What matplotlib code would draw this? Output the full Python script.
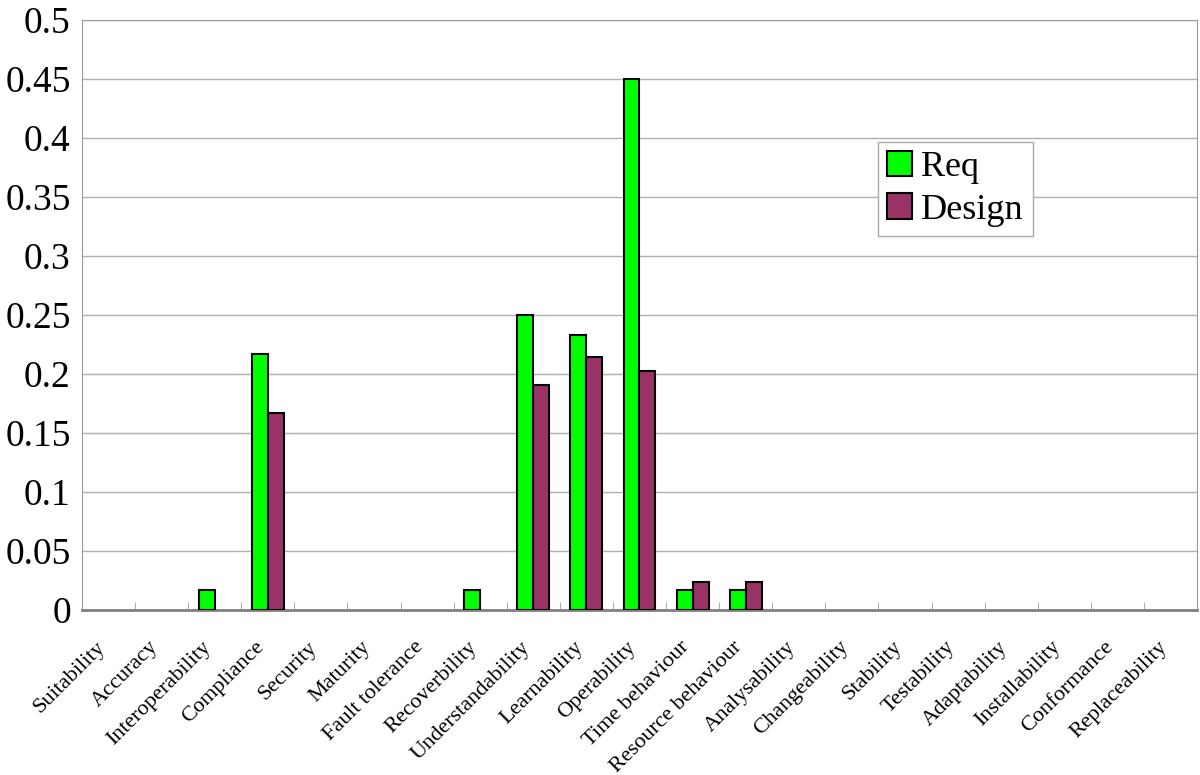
import numpy as np
import matplotlib.pyplot as plt
from matplotlib.ticker import FixedLocator
from matplotlib.transforms import ScaledTranslation

categories = ["Suitability", "Accuracy", "Interoperability", "Compliance", "Security",
              "Maturity", "Fault tolerance", "Recoverbility", "Understandability",
              "Learnability", "Operability", "Time behaviour", "Resource behaviour",
              "Analysability", "Changeability", "Stability", "Testability",
              "Adaptability", "Installability", "Conformance", "Replaceability"]
req = [0, 0, 0.0167, 0.2167, 0, 0, 0, 0.0167, 0.25, 0.2333, 0.45, 0.0167, 0.0167,
       0, 0, 0, 0, 0, 0, 0, 0]
design = [0, 0, 0, 0.1667, 0, 0, 0, 0, 0.1905, 0.2143, 0.2024, 0.0238, 0.0238,
          0, 0, 0, 0, 0, 0, 0, 0]
yticks = [0, 0.05, 0.1, 0.15, 0.2, 0.25, 0.3, 0.35, 0.4, 0.45, 0.5]
ytick_labels = ["0", "0.05", "0.1", "0.15", "0.2", "0.25", "0.3", "0.35", "0.4", "0.45", "0.5"]

plt.rcParams['font.family'] = ['Liberation Serif', 'DejaVu Serif']

fig = plt.figure(figsize=(12, 7.75), dpi=100)
ax = fig.add_axes([0.0683, 0.213, 0.9292, 0.7613])

x = np.arange(len(categories))
w = 0.3
ax.bar(x - w / 2, [v if v > 0 else np.nan for v in req], w, color="#00FF00",
       edgecolor="black", linewidth=1.5, label="Req", zorder=3)
ax.bar(x + w / 2, [v if v > 0 else np.nan for v in design], w, color="#993366",
       edgecolor="black", linewidth=1.5, label="Design", zorder=3)

ax.set_xlim(-0.5, len(categories) - 0.5)
ax.set_ylim(0, 0.5)
ax.set_yticks(yticks)
ax.set_yticklabels(ytick_labels, fontsize=27)
ax.yaxis.grid(True, color="#b0b0b0", linewidth=1)
ax.set_axisbelow(True)

ax.set_xticks(x)
ax.set_xticklabels(categories, rotation=45, ha="right", rotation_mode="anchor", fontsize=16)
ax.tick_params(axis="x", length=0, pad=20)
# shift the slanted labels a little to the left, like the original
shift = ScaledTranslation(-0.13, 0, fig.dpi_scale_trans)
for lab in ax.get_xticklabels():
    lab.set_transform(lab.get_transform() + shift)
ax.xaxis.set_minor_locator(FixedLocator(np.arange(-0.5, len(categories), 1.0)))
ax.tick_params(axis="x", which="minor", direction="in", length=6, color="#999999")
ax.tick_params(axis="y", length=0, pad=8)

for s in ["top", "right", "left"]:
    ax.spines[s].set_color("#999999")
ax.spines["bottom"].set_color("#808080")
ax.spines["bottom"].set_linewidth(2)

ax.legend(loc="upper left", bbox_to_anchor=(0.714, 0.793), fontsize=26,
          frameon=True, fancybox=False, edgecolor="#aaaaaa", framealpha=1,
          handlelength=0.7, handleheight=0.7, handletextpad=0.25,
          borderpad=0.25, labelspacing=0.25, borderaxespad=0)

fig.savefig("out.png", dpi=100)
